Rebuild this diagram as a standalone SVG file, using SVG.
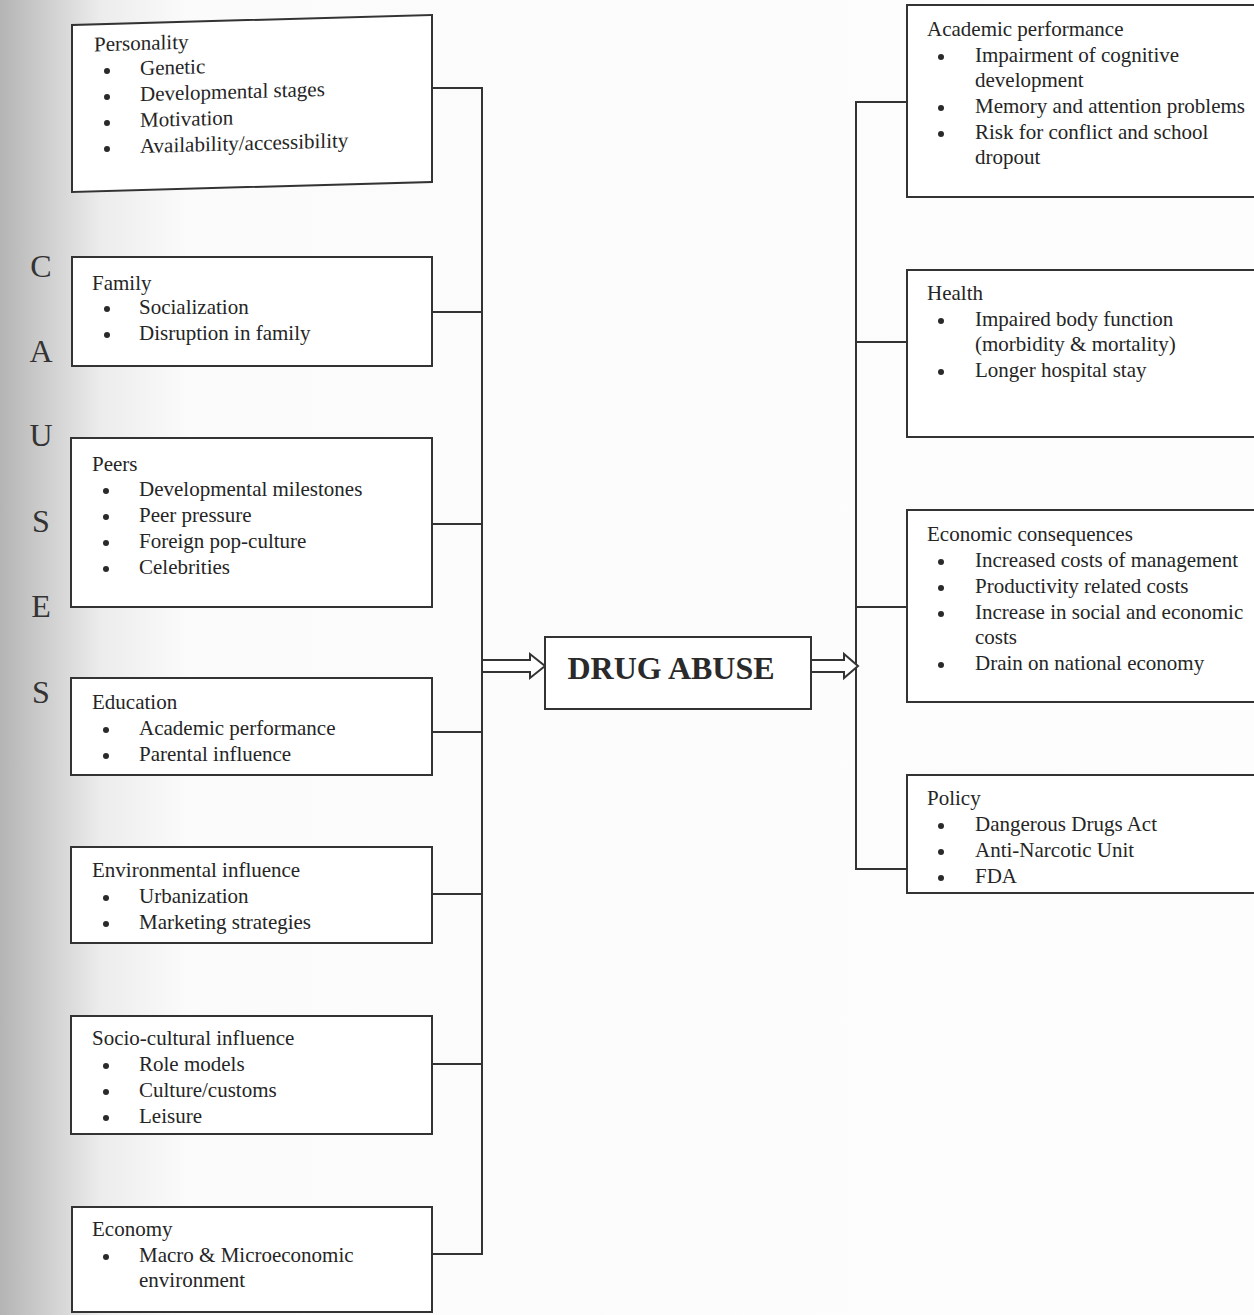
<svg xmlns="http://www.w3.org/2000/svg" width="1254" height="1315" viewBox="0 0 1254 1315">
<style>
.box{fill:#fff;stroke:#333;stroke-width:2}
.ln{fill:none;stroke:#333;stroke-width:2}
.arr{fill:#fff;stroke:#333;stroke-width:2;stroke-linejoin:miter}
.dot{fill:#2a2a2a}
text{font-family:"Liberation Serif","Times New Roman",serif;font-size:21px;fill:#252525}
.big{font-size:32px;font-weight:bold;text-anchor:middle;fill:#2a2a2a}
.cause{font-size:32px;text-anchor:middle;fill:#333}
</style>
<defs>
<linearGradient id="bg" x1="0" y1="0" x2="1" y2="0" gradientUnits="objectBoundingBox">
<stop offset="0" stop-color="#b4b4b4"/>
<stop offset="0.035" stop-color="#cdcdcd"/>
<stop offset="0.08" stop-color="#ececec"/>
<stop offset="0.15" stop-color="#fbfbfb"/>
<stop offset="1" stop-color="#fdfdfd"/>
</linearGradient>
</defs>
<rect x="0" y="0" width="1254" height="1315" fill="url(#bg)"/>

<g id="causes-label">
<text class="cause" x="41" y="277">C</text>
<text class="cause" x="41" y="362">A</text>
<text class="cause" x="41" y="446">U</text>
<text class="cause" x="41" y="532">S</text>
<text class="cause" x="41" y="617">E</text>
<text class="cause" x="41" y="703">S</text>
</g>

<g id="connectors">
<polyline class="ln" points="432,88 482,88 482,1254 432,1254"/>
<line class="ln" x1="432" y1="312" x2="482" y2="312"/>
<line class="ln" x1="432" y1="524" x2="482" y2="524"/>
<line class="ln" x1="432" y1="732" x2="482" y2="732"/>
<line class="ln" x1="432" y1="894" x2="482" y2="894"/>
<line class="ln" x1="432" y1="1064" x2="482" y2="1064"/>
<polyline class="ln" points="907,102 856,102 856,869 907,869"/>
<line class="ln" x1="856" y1="342" x2="907" y2="342"/>
<line class="ln" x1="856" y1="607" x2="907" y2="607"/>
<polygon class="arr" points="482,660 530,660 530,654 545,666 530,678 530,672 482,672"/>
<polygon class="arr" points="811,660 844,660 844,654 858,666 844,678 844,672 811,672"/>
</g>

<g id="personality" transform="translate(72,0) skewY(-1.6) translate(-72,0)">
<rect class="box" x="72" y="25" width="360" height="167"/>
<text x="94" y="52">Personality</text>
<circle class="dot" cx="107" cy="72" r="3"/><text x="140" y="77">Genetic</text>
<circle class="dot" cx="107" cy="98" r="3"/><text x="140" y="103">Developmental stages</text>
<circle class="dot" cx="107" cy="124" r="3"/><text x="140" y="129">Motivation</text>
<circle class="dot" cx="107" cy="150" r="3"/><text x="140" y="155">Availability/accessibility</text>
</g>

<g id="family">
<rect class="box" x="72" y="257" width="360" height="109"/>
<text x="92" y="290">Family</text>
<circle class="dot" cx="107" cy="309" r="3"/><text x="139" y="314">Socialization</text>
<circle class="dot" cx="107" cy="335" r="3"/><text x="139" y="340">Disruption in family</text>
</g>

<g id="peers">
<rect class="box" x="71" y="438" width="361" height="169"/>
<text x="92" y="471">Peers</text>
<circle class="dot" cx="106" cy="491" r="3"/><text x="139" y="496">Developmental milestones</text>
<circle class="dot" cx="106" cy="517" r="3"/><text x="139" y="522">Peer pressure</text>
<circle class="dot" cx="106" cy="543" r="3"/><text x="139" y="548">Foreign pop-culture</text>
<circle class="dot" cx="106" cy="569" r="3"/><text x="139" y="574">Celebrities</text>
</g>

<g id="education">
<rect class="box" x="71" y="678" width="361" height="97"/>
<text x="92" y="709">Education</text>
<circle class="dot" cx="106" cy="730" r="3"/><text x="139" y="735">Academic performance</text>
<circle class="dot" cx="106" cy="756" r="3"/><text x="139" y="761">Parental influence</text>
</g>

<g id="environmental">
<rect class="box" x="71" y="847" width="361" height="96"/>
<text x="92" y="877">Environmental influence</text>
<circle class="dot" cx="106" cy="898" r="3"/><text x="139" y="903">Urbanization</text>
<circle class="dot" cx="106" cy="924" r="3"/><text x="139" y="929">Marketing strategies</text>
</g>

<g id="socio-cultural">
<rect class="box" x="71" y="1016" width="361" height="118"/>
<text x="92" y="1045">Socio-cultural influence</text>
<circle class="dot" cx="106" cy="1066" r="3"/><text x="139" y="1071">Role models</text>
<circle class="dot" cx="106" cy="1092" r="3"/><text x="139" y="1097">Culture/customs</text>
<circle class="dot" cx="106" cy="1118" r="3"/><text x="139" y="1123">Leisure</text>
</g>

<g id="economy">
<rect class="box" x="72" y="1207" width="360" height="105"/>
<text x="92" y="1236">Economy</text>
<circle class="dot" cx="106" cy="1257" r="3"/><text x="139" y="1262">Macro &amp; Microeconomic</text>
<text x="139" y="1287">environment</text>
</g>

<g id="drug-abuse">
<rect class="box" x="545" y="637" width="266" height="72"/>
<text class="big" x="671" y="679">DRUG ABUSE</text>
</g>

<g id="academic-performance">
<rect class="box" x="907" y="5" width="360" height="192"/>
<text x="927" y="36">Academic performance</text>
<circle class="dot" cx="941" cy="57" r="3"/><text x="975" y="62">Impairment of cognitive</text>
<text x="975" y="87">development</text>
<circle class="dot" cx="941" cy="108" r="3"/><text x="975" y="113">Memory and attention problems</text>
<circle class="dot" cx="941" cy="134" r="3"/><text x="975" y="139">Risk for conflict and school</text>
<text x="975" y="164">dropout</text>
</g>

<g id="health">
<rect class="box" x="907" y="270" width="360" height="167"/>
<text x="927" y="300">Health</text>
<circle class="dot" cx="941" cy="321" r="3"/><text x="975" y="326">Impaired body function</text>
<text x="975" y="351">(morbidity &amp; mortality)</text>
<circle class="dot" cx="941" cy="372" r="3"/><text x="975" y="377">Longer hospital stay</text>
</g>

<g id="economic-consequences">
<rect class="box" x="907" y="510" width="360" height="192"/>
<text x="927" y="541">Economic consequences</text>
<circle class="dot" cx="941" cy="562" r="3"/><text x="975" y="567">Increased costs of management</text>
<circle class="dot" cx="941" cy="588" r="3"/><text x="975" y="593">Productivity related costs</text>
<circle class="dot" cx="941" cy="614" r="3"/><text x="975" y="619">Increase in social and economic</text>
<text x="975" y="644">costs</text>
<circle class="dot" cx="941" cy="665" r="3"/><text x="975" y="670">Drain on national economy</text>
</g>

<g id="policy">
<rect class="box" x="907" y="775" width="360" height="118"/>
<text x="927" y="805">Policy</text>
<circle class="dot" cx="941" cy="826" r="3"/><text x="975" y="831">Dangerous Drugs Act</text>
<circle class="dot" cx="941" cy="852" r="3"/><text x="975" y="857">Anti-Narcotic Unit</text>
<circle class="dot" cx="941" cy="878" r="3"/><text x="975" y="883">FDA</text>
</g>
</svg>
